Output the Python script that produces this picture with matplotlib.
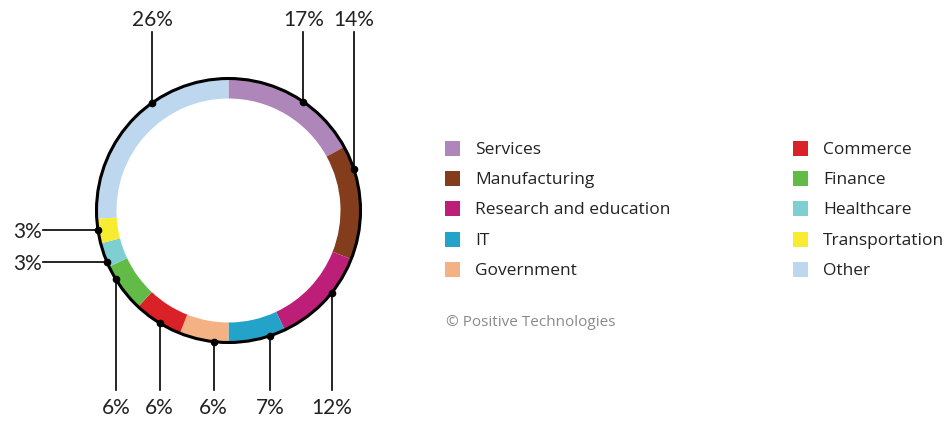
import numpy as np
import matplotlib
matplotlib.use("Agg")
import matplotlib.pyplot as plt

plt.rcParams['font.family'] = ['Lato', 'DejaVu Sans']

sectors = ["Services", "Manufacturing", "Research and education", "IT", "Government",
           "Commerce", "Finance", "Healthcare", "Transportation", "Other"]
shares = [17, 14, 12, 7, 6, 6, 6, 3, 3, 26]
colors = ["#AF86BA", "#833D1C", "#BD1E78", "#23A3C9", "#F4B183",
          "#DA2128", "#62BB46", "#7ECFD1", "#F8EC31", "#BDD7EE"]

# where each leader line leaves the ring (degrees clockwise from top) and which way it runs
leader_angle = [34.5, 71.5, 128.5, 161.5, 186.5, 211.5, 238.5, 247.0, 261.5, 324.8]
leader_side = ["top", "top", "bottom", "bottom", "bottom", "bottom", "bottom", "left", "left", "top"]

W, H = 948, 421
fig = plt.figure(figsize=(W / 100, H / 100), dpi=100)
ax = fig.add_axes([0, 0, 1, 1])

cx, cy = 228.5, H - 210.5
R, ring = 132, 20

ax.pie(shares, colors=colors, startangle=90, counterclock=False,
       center=(cx, cy), radius=R, wedgeprops=dict(width=ring, linewidth=0))
ax.add_patch(plt.Circle((cx, cy), R, fill=False, ec="black", lw=2.2, zorder=3))

for val, ang, side in zip(shares, leader_angle, leader_side):
    a = np.radians(ang)
    px, py = cx + R * np.sin(a), cy + R * np.cos(a)
    ax.plot(px, py, "o", color="black", ms=4.5, zorder=4)
    if side == "top":
        ax.plot([px, px], [py, H - 32], color="black", lw=1.2)
        ax.text(px, H - 20, f"{val}%", ha="center", va="center", fontsize=15, color="#222222")
    elif side == "bottom":
        ax.plot([px, px], [py, H - 390], color="black", lw=1.2)
        ax.text(px, H - 408, f"{val}%", ha="center", va="center", fontsize=15, color="#222222")
    else:
        ax.plot([px, 43], [py, py], color="black", lw=1.2)
        ax.text(42, py - 2, f"{val}%", ha="right", va="center", fontsize=15, color="#222222")

# legend: two columns of five
for i, (name, col) in enumerate(zip(sectors, colors)):
    col_x = 445 if i < 5 else 793
    row_y = H - (148.5 + 30.2 * (i % 5))
    ax.add_patch(plt.Rectangle((col_x, row_y - 7.5), 15, 15, color=col, lw=0))
    ax.text(col_x + 30, row_y - 1.5, name, ha="left", va="center", fontsize=12.5,
            color="#222222", family=["Open Sans", "DejaVu Sans"])

ax.text(446, H - 323, "\u00a9 Positive Technologies", ha="left", va="center",
        fontsize=11, color="#8a8a8a", family=["Open Sans", "DejaVu Sans"])

ax.set_xlim(0, W)
ax.set_ylim(0, H)
ax.set_aspect("equal")
ax.axis("off")

fig.savefig("out.png", dpi=100, facecolor="white")
